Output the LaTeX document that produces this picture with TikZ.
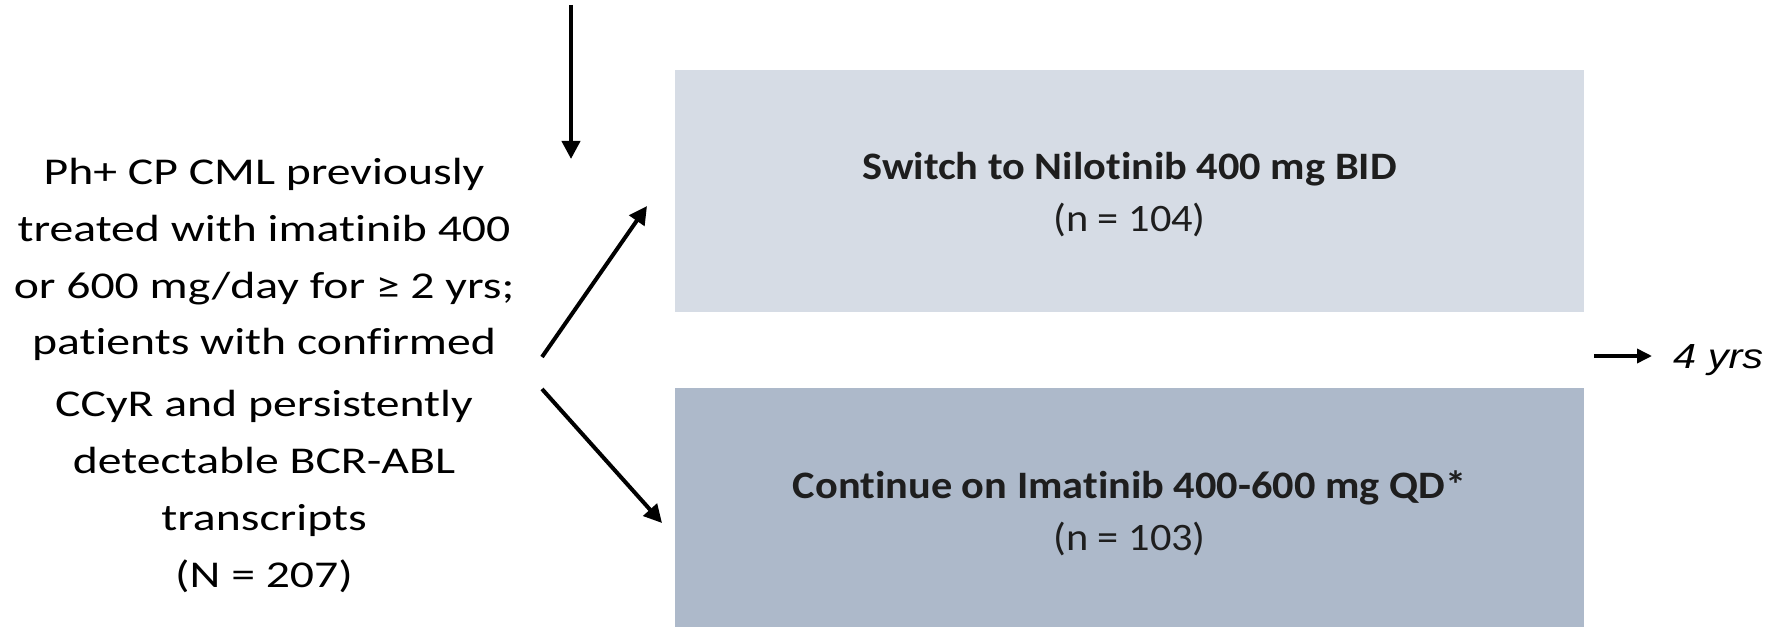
\documentclass[tikz,border=0pt]{standalone}
\usepackage{graphicx}
\usepackage{fontspec}
\setmainfont{Carlito}[Ligatures=NoCommon]
\newfontfamily\arialfont{Liberation Sans}
\usetikzlibrary{arrows.meta}
\definecolor{armlight}{HTML}{D6DCE5}
\definecolor{armdark}{HTML}{ADB9CA}
\definecolor{boxtext}{HTML}{1E1E1E}
% widened type used in the left column
\newcommand\widetxt[1]{\scalebox{1.26}[1]{#1}}
% widened type of the duration label
\newcommand\durtxt[1]{\scalebox{1.19}[1]{#1}}
% slightly widened type used inside the arm boxes
\newcommand\armtxt[1]{\scalebox{1.09}[1]{#1}}
\begin{document}
\begin{tikzpicture}[x=1bp,y=-1bp,
  flow/.style={line width=4bp,-{Triangle[width=18bp,length=18bp]}},
  armbox/.style={inner sep=0pt,outer sep=0pt,anchor=north west,minimum width=909bp},
  armhead/.style={anchor=base,inner sep=0pt,text=boxtext,font=\fontsize{39}{46}\selectfont\bfseries},
  armsub/.style={anchor=base,inner sep=0pt,text=boxtext,font=\fontsize{39}{46}\selectfont}]
\useasboundingbox (0,0) rectangle (1776,627);
\fill[white] (0,0) rectangle (1776,627);

% eligible population (anchored on the baseline of its last line)
\node[align=center,inner sep=0pt,anchor=base,font=\fontsize{38}{57}\selectfont] (pop) at (264,587)
  {\widetxt{Ph+ CP CML previously}\\
   \widetxt{treated with imatinib 400}\\
   \widetxt{or 600 mg/day for ≥ 2 yrs;}\\
   \widetxt{patients with confirmed}\\[5bp]
   \widetxt{CCyR and persistently}\\
   \widetxt{detectable BCR-ABL}\\
   \widetxt{transcripts}\\
   \widetxt{(N = 207)}};

% randomised arms
\node[armbox,fill=armlight,minimum height=242bp] (nil) at (675,70) {};
\node[armbox,fill=armdark,minimum height=239bp] (ima) at (675,388) {};
\node[armhead] (nilT) at (1129.5,180) {\armtxt{Switch to Nilotinib 400 mg BID}};
\node[armsub]  (nilN) at (1129.5,232) {\armtxt{(n = 104)}};
\node[armhead] (imaT) at (1129.5,498) {\armtxt{Continue on Imatinib 400-600 mg QD*}};
\node[armsub]  (imaN) at (1129.5,550) {\armtxt{(n = 103)}};

% follow-up duration
\node[anchor=base west,inner sep=0pt,font=\arialfont\itshape\fontsize{35}{40}\selectfont] (dur) at (1673,368) {\durtxt{4 yrs}};

% connector end points
\coordinate (entry) at (571,5);
\coordinate (entryEnd) at (571,159);
\coordinate (splitUp) at (542,357);
\coordinate (nilIn) at (647,206);
\coordinate (splitDown) at (542,389);
\coordinate (imaIn) at (662,523);
\coordinate (durStart) at (1594,356);
\coordinate (durEnd) at (1652,356);

\draw[flow] (entry) -- (entryEnd);
\draw[flow] (splitUp) -- (nilIn);
\draw[flow] (splitDown) -- (imaIn);
\draw[line width=3.5bp,-{Triangle[width=14bp,length=15bp]}] (durStart) -- (durEnd);
\end{tikzpicture}
\end{document}
